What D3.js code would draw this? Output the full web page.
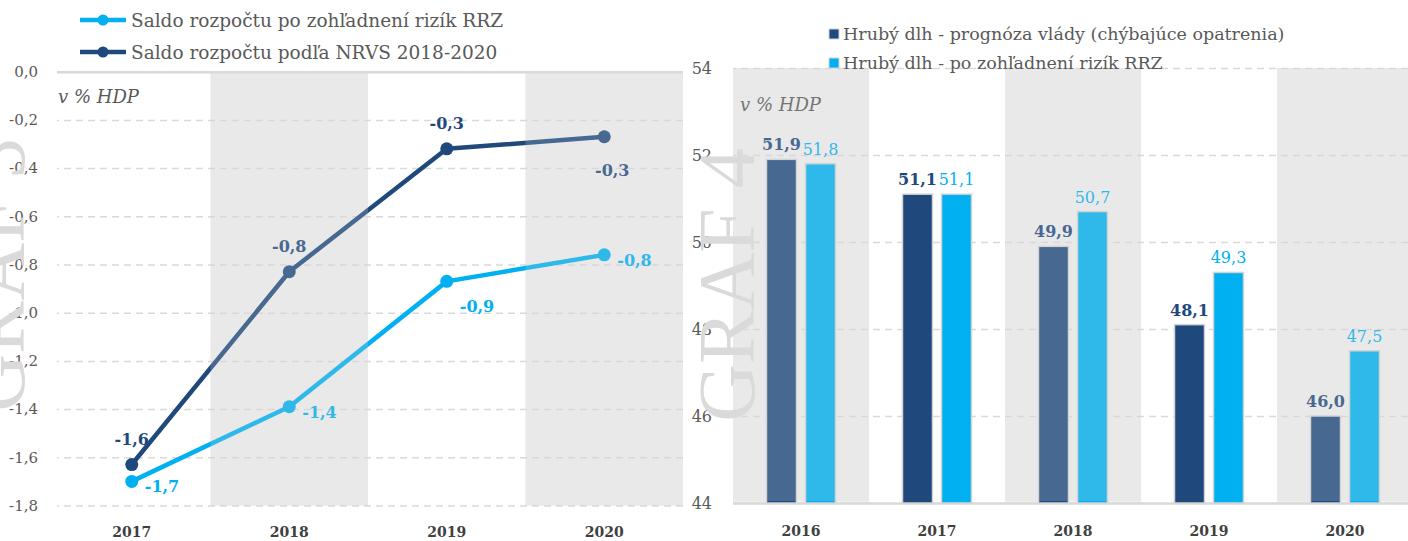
<!DOCTYPE html>
<html>
<head>
<meta charset="utf-8">
<script src="https://cdn.jsdelivr.net/npm/d3@7"></script>
<style>
    body { margin: 0; background: #fff; }
    svg { display: block; font-family: "DejaVu Serif", serif; }
</style>
</head>
<body>
<svg id="chart" width="1408" height="541"></svg>
<script>

// graf 3 - saldo rozpoctu
const years1 = ["2017", "2018", "2019", "2020"];
const saldoRRZ = [-1.70, -1.39, -0.87, -0.76];
const saldoNRVS = [-1.63, -0.83, -0.32, -0.27];
const ticks1 = [0, -0.2, -0.4, -0.6, -0.8, -1.0, -1.2, -1.4, -1.6, -1.8];
const shaded1 = ["2018", "2020"];
const legend1 = ["Saldo rozpočtu po zohľadnení rizík RRZ", "Saldo rozpočtu podľa NRVS 2018-2020"];

// graf 4 - hruby dlh
const years2 = ["2016", "2017", "2018", "2019", "2020"];
const dlhVlada = [51.9, 51.1, 49.9, 48.1, 46.0];
const dlhRRZ = [51.8, 51.1, 50.7, 49.3, 47.5];
const ticks2 = [44, 46, 48, 50, 52, 54];
const shaded2 = ["2016", "2018", "2020"];
const legend2 = ["Hrubý dlh - prognóza vlády (chýbajúce opatrenia)", "Hrubý dlh - po zohľadnení rizík RRZ"];

const DARK = "#1f497d", LIGHT = "#00b0f0";
const BAND = "#efefef", VEIL = "#d8d8d8";
const GRID = "#d9d9d9", TXT = "#595959";
const FONT = "DejaVu Serif";

const locale = d3.formatLocale({decimal: ",", thousands: " ", grouping: [3], currency: ["", ""], minus: "-"});
const fmt = locale.format(".1f");

const svg = d3.select("#chart");

function watermark(x, y, label) {
    svg.append("text")
        .attr("transform", "translate(" + x + "," + y + ") rotate(-90)")
        .attr("text-anchor", "middle")
        .attr("font-family", "Liberation Serif")
        .attr("font-size", 80)
        .attr("fill", "#dadada")
        .text(label);
}

// ---------------- left chart ----------------
const x1 = d3.scaleBand().domain(years1).range([53, 683]);
const y1 = d3.scaleLinear().domain([-1.8, 0]).range([505.5, 71.7]);
const cx1 = d => x1(d) + x1.bandwidth() / 2;

const left = svg.append("g");

left.selectAll(".band").data(shaded1).enter().append("rect")
    .attr("x", d => x1(d)).attr("width", x1.bandwidth())
    .attr("y", y1(0)).attr("height", y1(-1.8) - y1(0))
    .attr("fill", BAND);

watermark(24, 275, "GRAF 3");

const grid1 = left.append("g")
    .attr("transform", "translate(683,0)")
    .call(d3.axisLeft(y1).tickValues(ticks1).tickSize(683 - 57).tickFormat(""));
grid1.select(".domain").remove();
grid1.selectAll("line")
    .attr("stroke", GRID)
    .attr("stroke-width", d => d === 0 ? 2.5 : 1.5)
    .attr("stroke-dasharray", d => d === 0 ? null : "7,5");

const axY1 = left.append("g")
    .attr("transform", "translate(46,0)")
    .call(d3.axisLeft(y1).tickValues(ticks1).tickSize(0).tickPadding(8).tickFormat(fmt));
axY1.select(".domain").remove();
axY1.selectAll("text").attr("font-family", FONT).attr("font-size", 15).attr("fill", TXT);

const axX1 = left.append("g")
    .attr("transform", "translate(0,505)")
    .call(d3.axisBottom(x1).tickSize(0).tickPadding(22));
axX1.select(".domain").remove();
axX1.selectAll("text").attr("font-family", FONT).attr("font-size", 14)
    .attr("font-weight", "bold").attr("fill", "#404040");

left.append("text").attr("x", 58).attr("y", 103)
    .attr("font-size", 18).attr("font-style", "italic").attr("fill", TXT)
    .text("v % HDP");

const series1 = [
    {values: saldoNRVS, color: DARK, place: ["above", "above", "above", "below"]},
    {values: saldoRRZ, color: LIGHT, place: ["right", "right", "rightbelow", "right"]}
];

const line1 = d3.line().x((d, i) => cx1(years1[i])).y(d => y1(d));

series1.forEach(s => {
    left.append("path").datum(s.values)
        .attr("d", line1)
        .attr("fill", "none")
        .attr("stroke", s.color)
        .attr("stroke-width", 4.5)
        .attr("stroke-linejoin", "round");
    left.selectAll(null).data(s.values).enter().append("circle")
        .attr("cx", (d, i) => cx1(years1[i])).attr("cy", d => y1(d))
        .attr("r", 6.5).attr("fill", s.color);
    left.selectAll(null).data(s.values).enter().append("text")
        .attr("x", (d, i) => {
            const p = s.place[i], cx = cx1(years1[i]);
            if (p === "above") return cx;
            if (p === "below") return cx + 8;
            return cx + 13;
        })
        .attr("y", (d, i) => {
            const p = s.place[i], cy = y1(d);
            if (p === "above") return cy - 20;
            if (p === "below") return cy + 39;
            if (p === "rightbelow") return cy + 31;
            return cy + 11;
        })
        .attr("text-anchor", (d, i) => s.place[i] === "above" || s.place[i] === "below" ? "middle" : "start")
        .attr("font-size", 16).attr("font-weight", "bold").attr("fill", s.color)
        .text(d => fmt(d));
});

// veil over shaded columns mutes the marks like in the original
left.selectAll(".veil").data(shaded1).enter().append("rect")
    .attr("x", d => x1(d)).attr("width", x1.bandwidth())
    .attr("y", y1(0) + 2).attr("height", y1(-1.8) - y1(0) - 2)
    .attr("fill", VEIL).attr("opacity", 0.22);

// legend
legend1.forEach((t, i) => {
    const color = i === 0 ? LIGHT : DARK;
    const ly = 20 + i * 32;
    left.append("line").attr("x1", 80).attr("x2", 126).attr("y1", ly).attr("y2", ly)
        .attr("stroke", color).attr("stroke-width", 4.5);
    left.append("circle").attr("cx", 103).attr("cy", ly).attr("r", 5.5).attr("fill", color);
    left.append("text").attr("x", 131).attr("y", ly + 7)
        .attr("font-size", 18.5).attr("fill", TXT).text(t);
});

// ---------------- right chart ----------------
const x2 = d3.scaleBand().domain(years2).range([733, 1413]);
const xs = d3.scaleBand().domain(["vlada", "rrz"]).range([0, 69]).paddingInner(0.2308);
const y2 = d3.scaleLinear().domain([44, 54]).range([503, 68]);
const off = (x2.bandwidth() - 69) / 2;

const right = svg.append("g");

right.selectAll(".band").data(shaded2).enter().append("rect")
    .attr("x", d => x2(d)).attr("width", x2.bandwidth())
    .attr("y", y2(54)).attr("height", y2(44) - y2(54))
    .attr("fill", BAND);

watermark(754, 285, "GRAF 4");

const grid2 = right.append("g")
    .attr("transform", "translate(1408,0)")
    .call(d3.axisLeft(y2).tickValues(ticks2).tickSize(1408 - 733).tickFormat(""));
grid2.select(".domain").remove();
grid2.selectAll("line")
    .attr("stroke", GRID)
    .attr("stroke-width", d => d === 44 ? 2.5 : 1.5)
    .attr("stroke-dasharray", d => d === 44 ? null : "7,5");

const axY2 = right.append("g")
    .attr("transform", "translate(715,0)")
    .call(d3.axisLeft(y2).tickValues(ticks2).tickSize(0).tickPadding(3));
axY2.select(".domain").remove();
axY2.selectAll("text").attr("font-family", FONT).attr("font-size", 16).attr("fill", TXT);

const axX2 = right.append("g")
    .attr("transform", "translate(0,503)")
    .call(d3.axisBottom(x2).tickSize(0).tickPadding(23));
axX2.select(".domain").remove();
axX2.selectAll("text").attr("font-family", FONT).attr("font-size", 14)
    .attr("font-weight", "bold").attr("fill", "#404040");

right.append("text").attr("x", 740).attr("y", 111)
    .attr("font-size", 18).attr("font-style", "italic").attr("fill", TXT)
    .text("v % HDP");

const series2 = [
    {key: "vlada", values: dlhVlada, color: DARK, weight: "bold"},
    {key: "rrz", values: dlhRRZ, color: LIGHT, weight: "normal"}
];

series2.forEach(s => {
    right.selectAll(null).data(s.values).enter().append("rect")
        .attr("x", (d, i) => x2(years2[i]) + off + xs(s.key))
        .attr("width", xs.bandwidth())
        .attr("y", d => y2(d))
        .attr("height", d => y2(44) - y2(d))
        .attr("fill", s.color)
        .attr("stroke", "#d4d4d4").attr("stroke-width", 1.5);
    right.selectAll(null).data(s.values).enter().append("text")
        .attr("x", (d, i) => x2(years2[i]) + off + xs(s.key) + xs.bandwidth() / 2)
        .attr("y", d => y2(d) - 9)
        .attr("text-anchor", "middle")
        .attr("font-size", 16).attr("font-weight", s.weight).attr("fill", s.color)
        .text(d => fmt(d));
});

right.selectAll(".veil").data(shaded2).enter().append("rect")
    .attr("x", d => x2(d)).attr("width", x2.bandwidth())
    .attr("y", y2(54)).attr("height", y2(44) - y2(54) - 2)
    .attr("fill", VEIL).attr("opacity", 0.22);

legend2.forEach((t, i) => {
    const color = i === 0 ? DARK : LIGHT;
    const ly = 34 + i * 29;
    right.append("rect").attr("x", 829).attr("y", ly - 5).attr("width", 10).attr("height", 10)
        .attr("fill", color).attr("stroke", "#d4d4d4").attr("stroke-width", 1);
    right.append("text").attr("x", 843).attr("y", ly + 6)
        .attr("font-size", 17.5).attr("fill", TXT).text(t);
});

</script>
</body>
</html>
